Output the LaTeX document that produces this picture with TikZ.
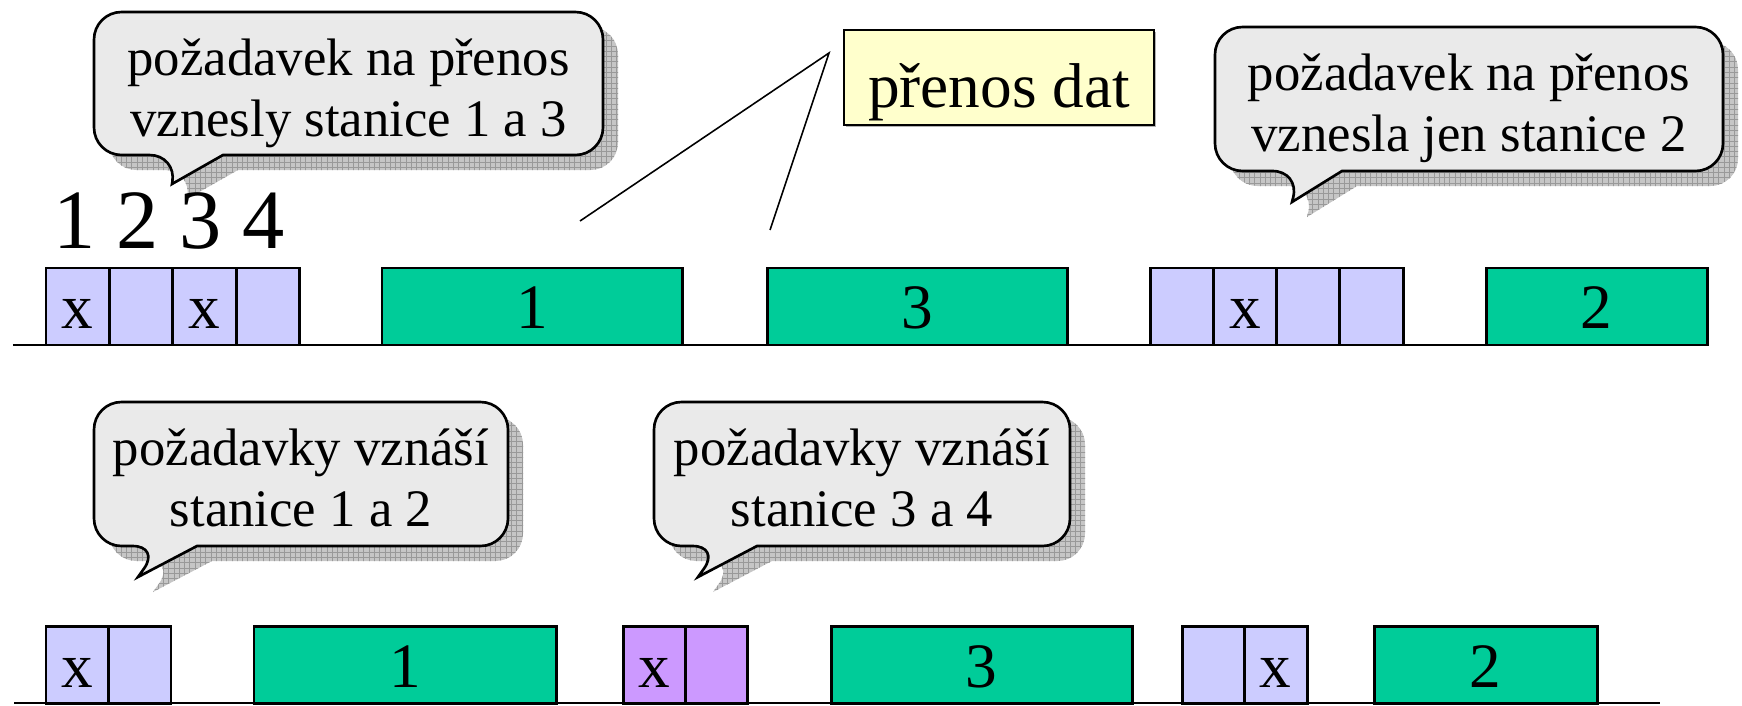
\documentclass[tikz,border=0pt]{standalone}
\usepackage{fontspec}
\setmainfont{Liberation Serif}
\usetikzlibrary{patterns}

\definecolor{slotblue}{HTML}{CCCCFF}
\definecolor{slotviolet}{HTML}{CC99FF}
\definecolor{framegreen}{HTML}{00CC99}
\definecolor{bubblegray}{HTML}{EAEAEA}
\definecolor{notepaper}{HTML}{FFFFCC}

\tikzset{
  slot/.style={draw, line width=1.7pt},
  slotlabel/.style={anchor=base, inner sep=0pt, font=\fontsize{36}{40}\selectfont},
  bubble/.style={draw, line width=1.5pt, fill=bubblegray},
  bubbleshadow/.style={pattern=grid, pattern color=gray!80, preaction={fill=gray!45}},
  bubbletext/.style={anchor=base, inner sep=0pt, font=\fontsize{30}{35}\selectfont},
  groundline/.style={line width=1.1pt},
  pointer/.style={line width=0.9pt}
}

\begin{document}
\begin{tikzpicture}
    \useasboundingbox (0,0) rectangle (34.84,14.1);
    % speech bubbles with their shadows
    \foreach \lft/\rgt/\tp/\bt/\pa/\pb/\tx/\ty/\cx/\n/\one/\two in {
        1.88/12.06/13.86/11.0/3.54/4.46/3.44/10.42/6.97/a/{požadavek na přenos}/{vznesly stanice 1 a 3},
        24.30/34.46/13.56/10.68/26.0/26.84/25.84/10.06/29.38/b/{požadavek na přenos}/{vznesla jen stanice 2},
        1.88/10.16/6.06/3.18/3.2/3.94/2.76/2.56/6.02/c/{požadavky vznáší}/{stanice 1 a 2},
        13.08/21.40/6.06/3.18/14.40/15.14/13.96/2.56/17.24/d/{požadavky vznáší}/{stanice 3 a 4}}
    {
        \fill[bubbleshadow, shift={(0.3,-0.3)}] (\pb,\bt) [rounded corners=0.55cm] -- (\rgt,\bt) -- (\rgt,\tp) -- (\lft,\tp) -- (\lft,\bt) -- (\pa,\bt) [sharp corners] -- (\tx,\ty) -- cycle;
        \draw[bubble] (\pb,\bt) [rounded corners=0.55cm] -- (\rgt,\bt) -- (\rgt,\tp) -- (\lft,\tp) -- (\lft,\bt) -- (\pa,\bt) [sharp corners] -- (\tx,\ty) -- cycle;
        \node[bubbletext] (\n1) at (\cx,\tp-1.26) {\one};
        \node[bubbletext] (\n2) at (\cx,\tp-2.48) {\two};
    }

    % first row
    \draw[groundline] (0.26,7.2) -- (33.22,7.2);
    \node[anchor=base, inner sep=0pt, font=\fontsize{48}{56}\selectfont] (stations) at (3.38,9.14) {1 2 3 4};
    \foreach \x/\lab [count=\k] in {0.92/x, 2.19/, 3.46/x, 4.73/, 23.0/, 24.265/x, 25.53/, 26.795/}
    {
        \draw[slot, fill=slotblue] (\x,7.2) rectangle ++(1.265,1.54);
        \node[slotlabel] (topslot\k) at (\x+0.6325,7.54) {\lab};
    }
    \foreach \a/\b/\lab in {7.64/13.64/1, 15.34/21.34/3, 29.72/34.14/2}
    {
        \draw[slot, fill=framegreen] (\a,7.2) rectangle (\b,8.74);
        \node[slotlabel] (topframe\lab) at ({(\a+\b)/2},7.54) {\lab};
    }

    % data transfer note
    \fill[gray!60] (16.92,11.56) rectangle (23.12,13.46);
    \draw[line width=1pt, fill=notepaper] (16.88,11.6) rectangle (23.08,13.5);
    \node[slotlabel] (dat) at (19.98,11.96) {přenos dat};
    \coordinate (datapex) at (16.58,13.04);
    \coordinate (frame1tip) at (11.6,9.68);
    \coordinate (frame3tip) at (15.4,9.5);
    \draw[pointer] (frame1tip) -- (datapex) -- (frame3tip);

    % second row
    \draw[groundline] (0.28,0.04) -- (33.2,0.04);
    \foreach \x/\w/\lab/\col [count=\k] in {0.92/1.25/x/slotblue, 2.17/1.25//slotblue,
        12.46/1.24/x/slotviolet, 13.70/1.24//slotviolet,
        23.64/1.25//slotblue, 24.89/1.25/x/slotblue}
    {
        \draw[slot, fill=\col] (\x,0.04) rectangle ++(\w,1.54);
        \node[slotlabel] (lowslot\k) at (\x+\w/2,0.36) {\lab};
    }
    \foreach \a/\b/\lab in {5.08/11.12/1, 16.62/22.64/3, 27.48/31.94/2}
    {
        \draw[slot, fill=framegreen] (\a,0.04) rectangle (\b,1.58);
        \node[slotlabel] (lowframe\lab) at ({(\a+\b)/2},0.36) {\lab};
    }
\end{tikzpicture}
\end{document}
